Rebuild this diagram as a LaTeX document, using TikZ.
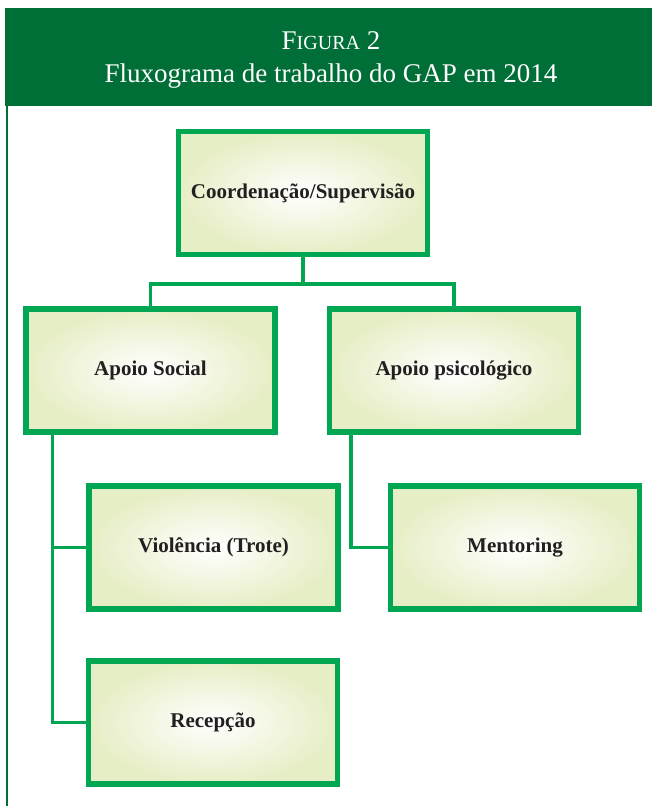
\documentclass[tikz,border=0pt]{standalone}
\usepackage{fontspec}
\setmainfont{Liberation Serif}
\definecolor{gapdark}{HTML}{006F37}
\definecolor{gapline}{HTML}{00A651}
\definecolor{gapfill}{HTML}{E6EEC5}
\definecolor{gaptext}{HTML}{231F20}
\begin{document}
\begin{tikzpicture}[x=1pt, y=-1pt,
  box/.style={draw=gapline, line width=5.5pt, inner color=white, outer color=gapfill,
    minimum width=249pt, minimum height=123pt, align=center, text=gaptext,
    font=\fontsize{21}{25}\bfseries\selectfont},
  link/.style={draw=gapline, line width=3.5pt}]
  \useasboundingbox (0,0) rectangle (652,806);
  % header
  \fill[gapdark] (5,8) rectangle (652,106);
  \draw[gapdark, line width=1.2pt] (7,106) -- (7,806);
  \node[text=white, font=\fontsize{27}{31}\selectfont] (fig) at (331,41) {F{\fontsize{20}{24}\selectfont IGURA} 2};
  \node[text=white, font=\fontsize{27}{31}\selectfont] (title) at (331,76) {Fluxograma de trabalho do GAP em 2014};
  % boxes
  \node[box] (coord) at (303,193) {Coordenação/Supervisão};
  \node[box] (social) at (150.5,370.5) {Apoio Social};
  \node[box] (psico) at (454,370.5) {Apoio psicológico};
  \node[box] (violencia) at (213.5,547.5) {Violência (Trote)};
  \node[box] (mentoring) at (515,547.5) {Mentoring};
  \node[box] (recepcao) at (213,722.5) {Recepção};
  % connectors
  \coordinate (split) at (303,284);
  \draw[link] (coord.south) -- (split);
  \draw[link] (social.north) |- (split) -| (psico.north);
  \draw[link] ([xshift=29pt]social.south west) |- (violencia.west);
  \draw[link] ([xshift=29pt]social.south west) |- (recepcao.west);
  \draw[link] ([xshift=24pt]psico.south west) |- (mentoring.west);
\end{tikzpicture}
\end{document}
